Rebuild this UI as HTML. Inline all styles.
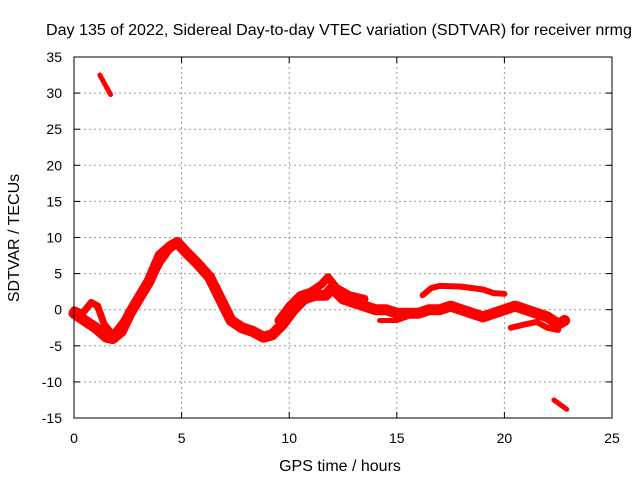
<!DOCTYPE html>
<html><head><meta charset="utf-8"><style>
body{margin:0;background:#fff;}
svg{font-family:"Liberation Sans",sans-serif;font-size:14px;}
.big{font-size:16px;}
</style></head><body>
<svg id="chart" width="640" height="480">
<text class="big" x="339" y="35" text-anchor="middle" textLength="586" lengthAdjust="spacingAndGlyphs">Day 135 of 2022, Sidereal Day-to-day VTEC variation (SDTVAR) for receiver nrmg</text>
<g id="grid"></g>
<g id="ticks"></g>
<g id="series"></g>
<rect x="74" y="57" width="538" height="361" fill="none" stroke="#000" stroke-width="1"/>
<text class="big" x="340" y="471" text-anchor="middle">GPS time / hours</text>
<text class="big" transform="translate(19,238) rotate(-90)" text-anchor="middle">SDTVAR / TECUs</text>
</svg>
<script>
const xTicks=[0,5,10,15,20,25];
const yTicks=[35,30,25,20,15,10,5,0,-5,-10,-15];
const mainHours=[0,0.5,1,1.5,1.8,2.2,2.6,3,3.5,4,4.5,4.8,5.2,5.7,6.3,6.8,7.3,7.8,8.3,8.8,9.2,9.7,10.2,10.7,11.2,11.7,12,12.5,13,13.5,14,14.5,15,15.5,16,16.5,17,17.5,18,18.5,19,19.5,20,20.5,21,21.5,22,22.5,22.8];
const mainVals=[-0.5,-1.5,-2.5,-3.8,-4,-3,-0.5,1.5,4,7.5,8.8,9.3,8,6.5,4.5,1.5,-1.5,-2.5,-3,-3.8,-3.5,-2,0,1.5,2,2,3,1.5,1,0.5,0,0,-0.5,-0.5,-0.5,0,0,0.5,0,-0.5,-1,-0.5,0,0.5,0,-0.5,-1,-2,-1.5];
const band2Hours=[0,0.4,0.8,1.1,1.4,1.8,2.2,2.8,3.4,4,4.6];
const band2Vals=[0,-0.5,1,0.5,-2,-3.5,-2,0.5,3,6.5,9];
const band3Hours=[9.5,10,10.5,11,11.5,11.8,12.2,12.8,13.5];
const band3Vals=[-1.5,0.5,2,2.5,3.5,4.5,3,2,1.5];
const upperHours=[16.2,16.6,17,18,19,19.5,20];
const upperVals=[2,3,3.3,3.2,2.8,2.3,2.2];
const lowerHours=[20.3,21,21.5,22,22.5];
const lowerVals=[-2.5,-2,-1.7,-2.5,-2.8];
const midLowHours=[14.2,15,15.5];
const midLowVals=[-1.5,-1.5,-1];
const topHours=[1.2,1.7];
const topVals=[32.5,29.8];
const bottomHours=[22.3,22.9];
const bottomVals=[-12.5,-13.8];
const NS='http://www.w3.org/2000/svg';
const xs=h=>74+h*538/25;
const ys=v=>57+(35-v)*361/50;
const grid=document.getElementById('grid'),ticks=document.getElementById('ticks'),ser=document.getElementById('series');
function mk(tag,at,p){const e=document.createElementNS(NS,tag);for(const k in at)e.setAttribute(k,at[k]);p.appendChild(e);return e;}
xTicks.forEach(t=>{const x=xs(t);
 if(t>0&&t<25){const l=mk('line',{x1:x,x2:x,y1:57,y2:418,stroke:'#999','stroke-dasharray':'2,3'},grid);
 
 }
 const tx=mk('text',{x:x,y:443,'text-anchor':'middle'},ticks);tx.textContent=t;
 
 
 mk('line',{x1:x,x2:x,y1:418,y2:412,stroke:'#000'},ticks);mk('line',{x1:x,x2:x,y1:57,y2:63,stroke:'#000'},ticks);});
yTicks.forEach(t=>{const y=ys(t);
 if(t<35&&t>-15){const l=mk('line',{x1:74,x2:612,y1:y,y2:y,stroke:'#999','stroke-dasharray':'2,3'},grid);
 
 }
 const tx=mk('text',{x:62,y:y+5,'text-anchor':'end'},ticks);tx.textContent=t;
 
 
 mk('line',{x1:74,x2:80,y1:y,y2:y,stroke:'#000'},ticks);mk('line',{x1:612,x2:606,y1:y,y2:y,stroke:'#000'},ticks);});
function draw(hs,vs,w,name){const pts=hs.map((h,i)=>xs(h)+','+ys(vs[i])).join(' ');
 const p=mk('polyline',{points:pts,fill:'none',stroke:'#f00','stroke-width':w,'stroke-linejoin':'round','stroke-linecap':'round'},ser);
 
 }
draw(mainHours,mainVals,11,'sdtvar-main-band');
draw(band2Hours,band2Vals,7,'sdtvar-band-early');
draw(band3Hours,band3Vals,8,'sdtvar-band-mid');
draw(upperHours,upperVals,6,'sdtvar-upper-track');
draw(lowerHours,lowerVals,6,'sdtvar-lower-track');
draw(midLowHours,midLowVals,5,'sdtvar-midlow-track');
draw(topHours,topVals,5,'sdtvar-top-outlier');
draw(bottomHours,bottomVals,5,'sdtvar-bottom-outlier');
</script>
</body></html>
